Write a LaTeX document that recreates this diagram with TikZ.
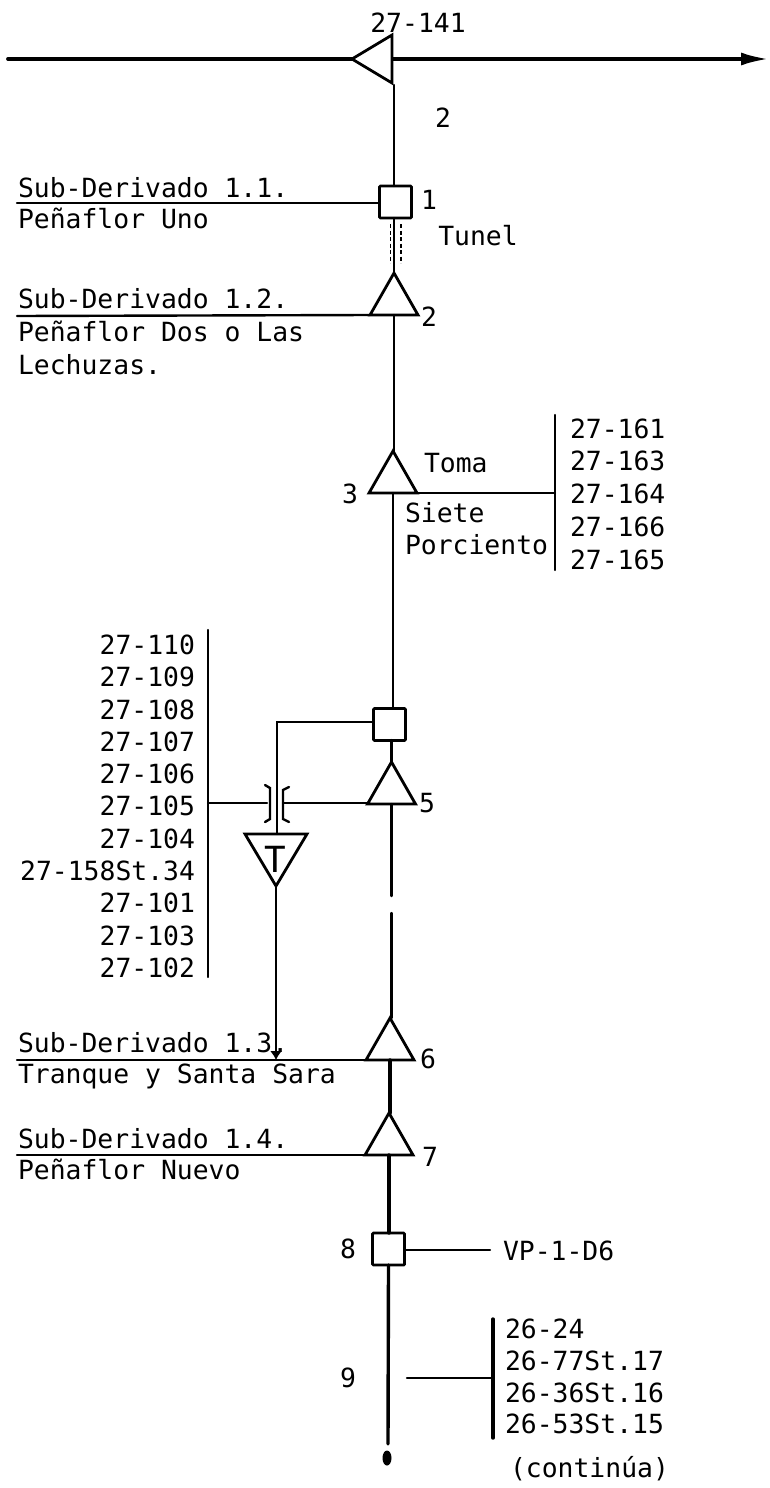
\documentclass[tikz,border=0pt]{standalone}
\usepackage{fontspec}
\setmonofont{DejaVu Sans Mono}
\usetikzlibrary{arrows.meta,shapes.geometric}
\tikzset{
  lbl/.style={font=\fontsize{26.4}{30}\ttfamily, inner sep=0pt, outer sep=0pt},
  lblw/.style={lbl, anchor=base west},
  lble/.style={lbl, anchor=base east},
  wire/.style={line width=2.4pt, line cap=round},
  heavy/.style={line width=3.4pt, line cap=round},
  gate/.style={draw, rectangle, line width=2.8pt, rounded corners=1pt, inner sep=0pt, outer sep=0pt, minimum width=32pt, minimum height=32pt},
  tank/.style={draw, isosceles triangle, isosceles triangle stretches, shape border rotate=90, anchor=apex,
    line width=2.8pt, inner sep=0pt, outer sep=0pt, minimum width=48pt, minimum height=42pt},
}
\begin{document}
\begin{tikzpicture}[x=1pt, y=-1pt]
  \useasboundingbox (0, 0) rectangle (769, 1488);

  % Main canal
  \node[draw, isosceles triangle, isosceles triangle stretches, shape border rotate=180, anchor=apex,
    line width=2.8pt, inner sep=0pt, outer sep=0pt, minimum width=48pt, minimum height=40pt] (main) at (352, 59) {};
  \coordinate (west) at (8, 59);
  \coordinate (east) at (769, 59);
  \draw[line width=3.8pt, line cap=round] (west) -- (main.apex);
  \draw[line width=3.8pt, -{Latex[length=28pt, width=13pt]}] (main.lower side) -- (east);
  \node[lbl] (n141) at (418, 23) {27-141};

  % Symbols on the derivado
  \node[gate] (sq1) at (395.5, 202) {};
  \node[tank] (tri2) at (394, 273) {};
  \node[tank] (tri3) at (393, 451) {};
  \node[gate] (sq4) at (389.5, 724.5) {};
  \node[tank] (tri5) at (391.5, 762) {};
  \node[tank] (tri6) at (390, 1018) {};
  \node[tank] (tri7) at (389, 1113) {};
  \node[gate] (sq8) at (388.5, 1249) {};

  % Derivado line
  \coordinate (topl) at (394, 85);
  \coordinate (gapa) at (391.5, 896);
  \coordinate (gapb) at (391.5, 913);
  \coordinate (endl) at (388, 1444);
  \draw[wire] (topl) -- (topl |- sq1.north);
  \draw[wire] (tri2.apex |- sq1.south) -- (tri2.apex);
  \draw[wire] (tri2.lower side) -- (tri2.lower side |- tri3.apex);
  \draw[wire] (tri3.lower side) -- (tri3.lower side |- sq4.north);
  \draw[heavy] (tri5.apex |- sq4.south) -- (tri5.apex);
  \draw[wire] (tri5.lower side) -- (gapa);
  \draw[wire] (gapb) -- (gapb |- tri6.apex);
  \draw[heavy] (tri6.lower side) -- (tri6.lower side |- tri7.apex);
  \draw[heavy] (tri7.lower side) -- (tri7.lower side |- sq8.north);
  \draw[heavy] (sq8.south) -- (endl);
  \node[ellipse, fill, inner sep=0pt, minimum width=9pt, minimum height=15pt] (blob) at (387, 1458) {};

  % Tunnel
  \coordinate (tuna) at (390.5, 224);
  \coordinate (tunb) at (390.5, 263);
  \coordinate (tunc) at (401, 224);
  \coordinate (tund) at (401, 263);
  \draw[line width=1.2pt, dash pattern=on 4pt off 2.5pt] (tuna) -- (tunb);
  \draw[line width=1.2pt, dash pattern=on 4pt off 2.5pt] (tunc) -- (tund);
  \node[lbl] (tunel) at (478, 236) {Tunel};

  % Numbers
  \node[lbl] (two) at (443, 118) {2};
  \node[lbl] (num1) at (429, 200) {1};
  \node[lbl] (num2) at (429, 317) {2};
  \node[lbl] (num3) at (350, 494) {3};
  \node[lbl] (num5) at (427, 803) {5};
  \node[lbl] (num6) at (428, 1059) {6};
  \node[lbl] (num7) at (430, 1157) {7};
  \node[lbl] (num8) at (348, 1249) {8};
  \node[lbl] (num9) at (348, 1378) {9};

  % Sub-Derivados
  \coordinate (sub1) at (17, 203);
  \coordinate (sub2) at (17, 316);
  \coordinate (sub3) at (17, 1060);
  \coordinate (sub4) at (17, 1155);
  \draw[wire] (sub1) -- (sq1.west |- sub1);
  \draw[wire] (sub2) -- (tri2.left corner);
  \draw[wire] (sub3) -- (tri6.left corner);
  \draw[wire] (sub4) -- (tri7.left corner);
  \node[lblw] (s11) at (18, 197) {Sub-Derivado 1.1.};
  \node[lblw] (pen1) at (18, 228) {Peñaflor Uno};
  \node[lblw] (s12) at (18, 308) {Sub-Derivado 1.2.};
  \node[lblw] (pen2) at (18, 341) {Peñaflor Dos o Las};
  \node[lblw] (lech) at (18, 374) {Lechuzas.};
  \node[lblw] (s13) at (18, 1052) {Sub-Derivado 1.3.};
  \node[lblw] (tran) at (18, 1083) {Tranque y Santa Sara};
  \node[lblw] (s14) at (18, 1148) {Sub-Derivado 1.4.};
  \node[lblw] (pen4) at (18, 1179) {Peñaflor Nuevo};

  % Toma Siete Porciento
  \coordinate (bara) at (555, 415);
  \coordinate (barb) at (555, 570);
  \coordinate (barc) at (555, 493);
  \draw[wire] (bara) -- (barb);
  \draw[wire] (tri3.lower side) -- (barc);
  \node[lblw] (toma) at (424, 472) {Toma};
  \node[lblw] (siete) at (405, 522) {Siete};
  \node[lblw] (porc) at (405, 554) {Porciento};
  \node[lblw] (n161) at (570, 438) {27-161};
  \node[lblw] (n163) at (570, 470) {27-163};
  \node[lblw] (n164) at (570, 503) {27-164};
  \node[lblw] (n166) at (570, 536) {27-166};
  \node[lblw] (n165) at (570, 569) {27-165};

  % Branch with the T symbol
  \node[draw, isosceles triangle, isosceles triangle stretches, shape border rotate=-90, anchor=apex,
    line width=2.8pt, inner sep=0pt, outer sep=0pt, minimum width=62pt, minimum height=52pt] (tritee) at (276, 886) {};
  \node[lbl, font=\fontsize{36}{40}\ttfamily] (tee) at (275, 859) {T};
  \coordinate (bend) at (277, 722);
  \coordinate (drop) at (276, 1060);
  \draw[wire] (sq4.west |- bend) -- (bend) -- (bend |- tritee.lower side);
  \draw[wire, -{Latex[length=9pt, width=12pt]}] (tritee.apex) -- (drop);

  % Left list
  \coordinate (lefa) at (208, 630);
  \coordinate (lefb) at (208, 977);
  \coordinate (lefc) at (208, 803);
  \coordinate (brka) at (267, 803);
  \coordinate (brkb) at (283, 803);
  \draw[wire] (lefa) -- (lefb);
  \draw[wire] (lefc) -- (brka);
  \draw[wire] (brkb) -- (brkb -| tri5.left corner);
  \draw[wire] (265, 785) -- (270, 788) -- (270, 819) -- (265, 822);
  \draw[wire] (289, 787) -- (283, 790) -- (283, 819) -- (289, 822);
  \node[lble] (n110) at (195, 654) {27-110};
  \node[lble] (n109) at (195, 686) {27-109};
  \node[lble] (n108) at (195, 719) {27-108};
  \node[lble] (n107) at (195, 751) {27-107};
  \node[lble] (n106) at (195, 783) {27-106};
  \node[lble] (n105) at (195, 815) {27-105};
  \node[lble] (n104) at (195, 848) {27-104};
  \node[lble] (n158) at (195, 880) {27-158St.34};
  \node[lble] (n101) at (195, 912) {27-101};
  \node[lble] (n103) at (195, 945) {27-103};
  \node[lble] (n102) at (195, 977) {27-102};

  % VP branch
  \coordinate (vpend) at (490, 1250);
  \draw[wire] (sq8.east |- vpend) -- (vpend);
  \node[lblw] (vp) at (503, 1260) {VP-1-D6};

  % Bottom list
  \coordinate (bota) at (493, 1319);
  \coordinate (botb) at (493, 1438);
  \coordinate (botc) at (493, 1378);
  \coordinate (botd) at (407, 1378);
  \draw[heavy] (bota) -- (botb);
  \draw[wire] (botd) -- (botc);
  \node[lblw] (n24) at (505, 1338) {26-24};
  \node[lblw] (n77) at (505, 1370) {26-77St.17};
  \node[lblw] (n36) at (505, 1402) {26-36St.16};
  \node[lblw] (n53) at (505, 1433) {26-53St.15};
  \node[lblw] (cont) at (510, 1477) {(continúa)};

\end{tikzpicture}
\end{document}
